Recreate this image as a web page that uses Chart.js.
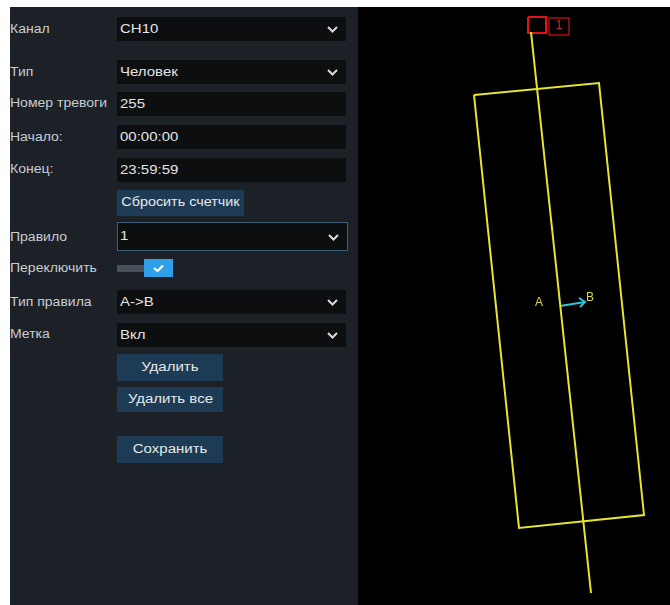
<!DOCTYPE html>
<html>
<head>
<meta charset="utf-8">
<script src="https://cdn.jsdelivr.net/npm/chart.js@4.4.1/dist/chart.umd.min.js"></script>
<style>
  body { margin: 0; background: #fff; font-family: "Liberation Sans", Arial, sans-serif; }
  #page { position: relative; width: 670px; height: 605px; overflow: hidden; }
  #panel { position: absolute; left: 10px; top: 7px; width: 348px; height: 598px; background: #1c2128; }
  .lbl { position: absolute; left: 0; font-size: 12.5px; color: #c9cdd2; transform: translateY(-50%) scaleX(1.12);
         transform-origin: left center; white-space: nowrap; }
  .box { position: absolute; left: 107px; width: 229px; height: 24px; background: #0d0e10; color: #e2e4e6;
         font-size: 12.5px; line-height: 24px; padding-left: 3px; box-sizing: border-box; }
  .box span, .btn span { display: inline-block; transform: scaleX(1.2); transform-origin: left center; }
  .btn span { transform-origin: center center; }
  .box.focus { border: 1.5px solid #3b5f7a; height: 29px; width: 231px; line-height: 26px; padding-left: 2px; }
  .box svg { position: absolute; right: 8px; top: 50%; margin-top: -3px; }
  .btn { position: absolute; left: 107px; background: #1d3b54; color: #e6e9ec; font-size: 12.5px; text-align: center; }
  #track { position: absolute; left: 107px; top: 258px; width: 30px; height: 7px; background: #4a4f5c; }
  #check { position: absolute; left: 134px; top: 252px; width: 29px; height: 18px; background: #2f9fe8; }
  #view { position: absolute; left: 358px; top: 7px; width: 312px; height: 598px; background: #000; }
</style>
</head>
<body>
<div id="page">
  <div id="panel">
    <div class="lbl" style="top:22px">Канал</div>
    <div class="box" style="top:10px"><span>CH10</span><svg width="11" height="7"><polyline points="1,1 5.5,5.5 10,1" fill="none" stroke="#d8dadc" stroke-width="2"/></svg></div>
    <div class="lbl" style="top:65px">Тип</div>
    <div class="box" style="top:53px"><span>Человек</span><svg width="11" height="7"><polyline points="1,1 5.5,5.5 10,1" fill="none" stroke="#d8dadc" stroke-width="2"/></svg></div>
    <div class="lbl" style="top:96px">Номер тревоги</div>
    <div class="box" style="top:85px"><span>255</span></div>
    <div class="lbl" style="top:130px">Начало:</div>
    <div class="box" style="top:118px"><span>00:00:00</span></div>
    <div class="lbl" style="top:162px">Конец:</div>
    <div class="box" style="top:151px"><span>23:59:59</span></div>
    <div class="btn" style="top:183px;width:127px;height:26px;line-height:24px"><span style="transform:scaleX(1.15)">Сбросить счетчик</span></div>
    <div class="lbl" style="top:230px">Правило</div>
    <div class="box focus" style="top:215px"><span>1</span><svg width="11" height="7"><polyline points="1,1 5.5,5.5 10,1" fill="none" stroke="#d8dadc" stroke-width="2"/></svg></div>
    <div class="lbl" style="top:261px">Переключить</div>
    <div id="track"></div>
    <div id="check"><svg width="29" height="18"><polyline points="10,9 13.5,12 19,6.5" fill="none" stroke="#fff" stroke-width="2.2"/></svg></div>
    <div class="lbl" style="top:295px">Тип правила</div>
    <div class="box" style="top:283px"><span>A-&gt;B</span><svg width="11" height="7"><polyline points="1,1 5.5,5.5 10,1" fill="none" stroke="#d8dadc" stroke-width="2"/></svg></div>
    <div class="lbl" style="top:327px">Метка</div>
    <div class="box" style="top:316px"><span>Вкл</span><svg width="11" height="7"><polyline points="1,1 5.5,5.5 10,1" fill="none" stroke="#d8dadc" stroke-width="2"/></svg></div>
    <div class="btn" style="top:347px;width:106px;height:27px;line-height:26px"><span>Удалить</span></div>
    <div class="btn" style="top:380px;width:106px;height:25px;line-height:25px"><span>Удалить все</span></div>
    <div class="btn" style="top:429px;width:106px;height:27px;line-height:26px"><span>Сохранить</span></div>
  </div>
  <div id="view"><canvas id="c" width="312" height="598"></canvas></div>
</div>
<script>
// zone rectangle corners (closed polygon), picture coords
const zoneX = [474, 599, 644, 519, 474];
const zoneY = [95, 83, 515, 528, 95];
// crossing line
const lineX = [531, 591];
const lineY = [32, 593];
// direction arrow A->B
const arrowX = [560, 585];
const arrowY = [306, 302];
const headX = [579, 585, 580];
const headY = [298, 302, 307];
// red markers at the line start
const markX = [528, 546, 546, 528, 528];
const markY = [17, 17, 33, 33, 17];
const tagX = [549, 569, 569, 549, 549];
const tagY = [18, 18, 35, 35, 18];
// text labels
const labelText = ['A', 'B', '1'];
const labelX = [539, 590, 559];
const labelY = [303, 298, 26];
const labelColor = ['#dada3a', '#dada3a', '#d42020'];

const pts = (xs, ys) => xs.map((x, i) => ({ x: x, y: ys[i] }));

const seg = (xs, ys, color, width) => ({
  data: pts(xs, ys),
  showLine: true,
  borderColor: color,
  borderWidth: width,
  pointRadius: 0,
  fill: false,
  tension: 0,
});

const textLabels = {
  id: 'textLabels',
  afterDatasetsDraw(chart) {
    const { ctx, scales } = chart;
    ctx.save();
    ctx.font = '12px "Liberation Sans", Arial, sans-serif';
    ctx.textAlign = 'center';
    ctx.textBaseline = 'middle';
    labelText.forEach((t, i) => {
      ctx.fillStyle = labelColor[i];
      ctx.fillText(t, scales.x.getPixelForValue(labelX[i]), scales.y.getPixelForValue(labelY[i]));
    });
    ctx.restore();
  },
};

new Chart(document.getElementById('c').getContext('2d'), {
  type: 'scatter',
  data: {
    datasets: [
      seg(zoneX, zoneY, '#e6e632', 2),
      seg(lineX, lineY, '#e6e632', 2),
      seg(arrowX, arrowY, '#2ec4dc', 2),
      seg(headX, headY, '#2ec4dc', 2),
      seg(markX, markY, '#e01414', 2),
      seg(tagX, tagY, '#a81010', 1.5),
    ],
  },
  options: {
    responsive: false,
    animation: false,
    layout: { padding: 0 },
    plugins: { legend: { display: false }, tooltip: { enabled: false } },
    scales: {
      x: { type: 'linear', min: 358, max: 670, display: false },
      y: { type: 'linear', min: 7, max: 605, reverse: true, display: false },
    },
  },
  plugins: [textLabels],
});
</script>
</body>
</html>
